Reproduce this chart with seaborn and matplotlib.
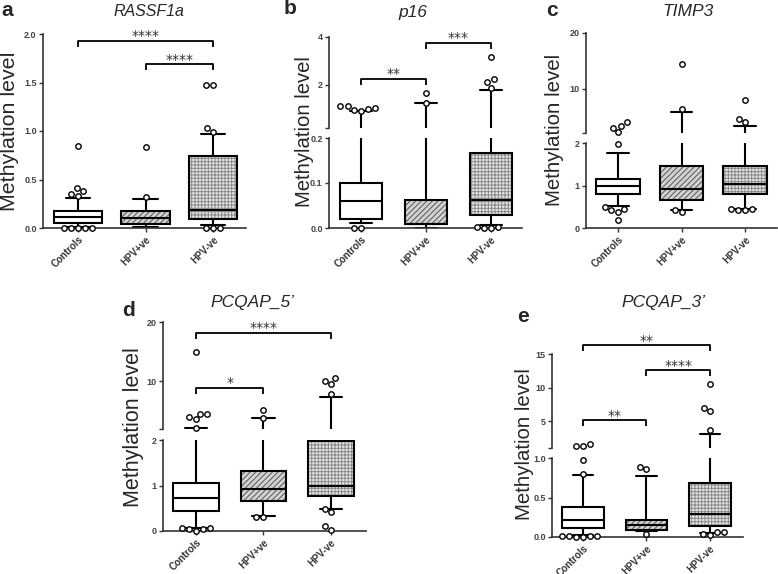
import numpy as np
import pandas as pd
import matplotlib
matplotlib.use("Agg")
import matplotlib.pyplot as plt
from matplotlib.patches import PathPatch
import seaborn as sns

GROUPS = ["Controls", "HPV+ve", "HPV-ve"]

# ---------------- data ----------------
# five-number summaries: [lower whisker, Q1, median, Q3, upper whisker]
rassf1a_controls = [0.01, 0.055, 0.117, 0.176, 0.31]
rassf1a_hpv_pos = [0.007, 0.045, 0.107, 0.172, 0.303]
rassf1a_hpv_neg = [0.03, 0.096, 0.19, 0.744, 0.967]
rassf1a_out_controls = [0.85, 0.41, 0.38, 0.355, 0.33, 0.0, 0.0, 0.0, 0.0, 0.0]
rassf1a_out_hpv_pos = [0.83, 0.32]
rassf1a_out_hpv_neg = [1.47, 1.47, 1.03, 0.99, 0.0, 0.0, 0.0]
rassf1a_brackets = [("Controls", "HPV-ve", 1.93, "****"), ("HPV+ve", "HPV-ve", 1.687, "****")]

p16_controls = [0.011, 0.02, 0.06, 0.1007, 0.90]
p16_hpv_pos = [0.0, 0.0096, 0.0096, 0.0615, 1.24]
p16_hpv_neg = [0.007, 0.028, 0.063, 0.167, 1.79]
p16_out_controls = [1.13, 1.03, 0.97, 0.93, 1.0, 1.1, 0.0, 0.0]
p16_out_hpv_pos = [1.65, 1.25]
p16_out_hpv_neg = [3.17, 2.23, 2.1, 1.86, 0.003, 0.0, 0.0, 0.003]
p16_brackets = [("Controls", "HPV+ve", 2.25, "**"), ("HPV+ve", "HPV-ve", 3.77, "***")]

timp3_controls = [0.51, 0.79, 0.99, 1.16, 1.76]
timp3_hpv_pos = [0.43, 0.67, 0.92, 1.47, 5.75]
timp3_hpv_neg = [0.45, 0.79, 1.04, 1.46, 3.17]
timp3_out_controls = [0.49, 0.42, 0.38, 0.45, 0.18, 1.97, 2.1, 2.9, 3.2, 3.95]
timp3_out_hpv_pos = [0.37, 0.43, 6.4, 14.4]
timp3_out_hpv_neg = [0.44, 0.42, 0.42, 0.45, 4.0, 4.55, 8.0]
timp3_brackets = []

pcqap5_controls = [0.07, 0.45, 0.735, 1.06, 2.2]
pcqap5_hpv_pos = [0.32, 0.67, 0.93, 1.32, 3.78]
pcqap5_hpv_neg = [0.48, 0.77, 1.0, 1.98, 7.33]
pcqap5_out_controls = [0.06, 0.0, 0.045, 0.06, 0.05, 2.2, 3.6, 3.95, 4.55, 4.55, 15.0]
pcqap5_out_hpv_pos = [0.3, 0.3, 3.78, 5.17]
pcqap5_out_hpv_neg = [0.48, 0.41, 0.1, 0.03, 7.9, 9.6, 10.1, 10.5]
pcqap5_brackets = [("Controls", "HPV-ve", 18.17, "****"), ("Controls", "HPV+ve", 8.9, "*")]

pcqap3_controls = [0.02, 0.11, 0.22, 0.38, 0.79]
pcqap3_hpv_pos = [0.07, 0.093, 0.15, 0.22, 0.77]
pcqap3_hpv_neg = [0.055, 0.135, 0.295, 0.68, 3.02]
pcqap3_out_controls = [0.01, 0.01, 0.0, 0.01, 0.0, 0.01, 0.8, 0.98, 1.24, 1.24, 1.58]
pcqap3_out_hpv_pos = [0.034, 0.88, 0.86]
pcqap3_out_hpv_neg = [0.06, 0.03, 0.04, 0.06, 3.66, 6.44, 7.03, 10.6]
pcqap3_brackets = [("Controls", "HPV-ve", 16.3, "**"), ("HPV+ve", "HPV-ve", 12.6, "****"),
                   ("Controls", "HPV+ve", 5.1, "**")]

# ---------------- style ----------------
sns.set_style("ticks")
plt.rcParams["font.family"] = ["Liberation Sans", "DejaVu Sans"]
plt.rcParams["hatch.linewidth"] = 0.7

W, H = 778, 574
fig = plt.figure(figsize=(W / 100, H / 100), dpi=100)

FILLS = {"Controls": ("white", None, None),
         "HPV+ve": ("#d2d2d2", "//////", "#555555"),
         "HPV-ve": ("#e4e4e4", "+++++", "#8a8a8a")}
INK = "#333333"

panels = [
    dict(letter="a", title="RASSF1a",
         stats=[rassf1a_controls, rassf1a_hpv_pos, rassf1a_hpv_neg],
         outliers=[rassf1a_out_controls, rassf1a_out_hpv_pos, rassf1a_out_hpv_neg],
         brackets=rassf1a_brackets, left=43, right=246, xlim=(-0.519, 2.489), width=0.72,
         segs=[(0, 2.0, 34, 228)],
         ticks=[([0, 0.5, 1.0, 1.5, 2.0], ["0.0", "0.5", "1.0", "1.5", "2.0"])],
         title_xy=(149, 11), title_fs=11.5, letter_xy=(1, 11), ylabel_xy=(10, 131), ylabel_fs=15.4),
    dict(letter="b", title="p16",
         stats=[p16_controls, p16_hpv_pos, p16_hpv_neg],
         outliers=[p16_out_controls, p16_out_hpv_pos, p16_out_hpv_neg],
         brackets=p16_brackets, left=329, right=522, xlim=(-0.492, 2.477), width=0.66,
         segs=[(0, 0.2, 138, 228), (0.2, 4, 37, 128)],
         ticks=[([0, 0.1, 0.2], ["0.0", "0.1", "0.2"]), ([0.2, 2, 4], ["", "2", "4"])],
         title_xy=(413, 12), title_fs=12.5, letter_xy=(284, 9), ylabel_xy=(305, 132), ylabel_fs=14.6),
    dict(letter="c", title="TIMP3",
         stats=[timp3_controls, timp3_hpv_pos, timp3_hpv_neg],
         outliers=[timp3_out_controls, timp3_out_hpv_pos, timp3_out_hpv_neg],
         brackets=timp3_brackets, left=586, right=777, xlim=(-0.504, 2.504), width=0.68,
         segs=[(0, 2, 143, 228), (2, 20, 33, 133)],
         ticks=[([0, 1, 2], ["0", "1", "2"]), ([2, 10, 20], ["", "10", "20"])],
         title_xy=(688, 11), title_fs=12.5, letter_xy=(546, 10), ylabel_xy=(555, 130), ylabel_fs=14.8),
    dict(letter="d", title="PCQAP_5\u2019",
         stats=[pcqap5_controls, pcqap5_hpv_pos, pcqap5_hpv_neg],
         outliers=[pcqap5_out_controls, pcqap5_out_hpv_pos, pcqap5_out_hpv_neg],
         brackets=pcqap5_brackets, left=163, right=366, xlim=(-0.489, 2.519), width=0.68,
         segs=[(0, 2, 440, 531), (2, 20, 322, 429)],
         ticks=[([0, 1, 2], ["0", "1", "2"]), ([2, 10, 20], ["", "10", "20"])],
         title_xy=(252, 303), title_fs=12.5, letter_xy=(122, 310), ylabel_xy=(133, 427), ylabel_fs=15.5),
    dict(letter="e", title="PCQAP_3\u2019",
         stats=[pcqap3_controls, pcqap3_hpv_pos, pcqap3_hpv_neg],
         outliers=[pcqap3_out_controls, pcqap3_out_hpv_pos, pcqap3_out_hpv_neg],
         brackets=pcqap3_brackets, left=552, right=743, xlim=(-0.488, 2.52), width=0.66,
         segs=[(0, 1, 458, 537), (1, 15, 354, 448)],
         ticks=[([0, 0.5, 1.0], ["0.0", "0.5", "1.0"]), ([1, 5, 10, 15], ["", "5", "10", "15"])],
         title_xy=(663, 303), title_fs=12.5, letter_xy=(517, 316), ylabel_xy=(525, 444), ylabel_fs=14.7),
]


def draw_panel(p):
    axes = []
    box_df = pd.DataFrame({"group": np.repeat(GROUPS, 5),
                           "value": np.concatenate([np.sort(s) for s in p["stats"]])})
    for k, (ylo, yhi, top, bottom) in enumerate(p["segs"]):
        ax = fig.add_axes([p["left"] / W, 1 - bottom / H,
                           (p["right"] - p["left"]) / W, (bottom - top) / H])
        axes.append(ax)
        sns.boxplot(data=box_df, x="group", y="value", order=GROUPS, whis=(0, 100),
                    width=p["width"], showfliers=False, color="white", linecolor="black",
                    linewidth=1.5, ax=ax)
        boxes = [a for a in ax.patches if isinstance(a, PathPatch)]
        for g, box, st in zip(GROUPS, boxes, p["stats"]):
            fc, hatch, hc = FILLS[g]
            hidden = k > 0 and max(st[1:4]) < ylo
            if hidden:
                box.set_visible(False)
                continue
            if hatch:
                box.set_facecolor("none")
                under = PathPatch(box.get_path(), transform=box.get_transform(),
                                  facecolor=fc, edgecolor=hc, hatch=hatch, linewidth=0,
                                  zorder=box.get_zorder() - 0.05)
                ax.add_patch(under)
        rows = []
        for g, vals in zip(GROUPS, p["outliers"]):
            for v in vals:
                inside = (ylo <= v <= yhi) if k == 0 else (ylo < v <= yhi)
                if inside:
                    rows.append((g, v))
        odf = pd.DataFrame(rows, columns=["group", "value"])
        n0 = len(ax.collections)
        sns.swarmplot(data=odf, x="group", y="value", order=GROUPS, size=3.9,
                      color="white", edgecolor="black", linewidth=1.0, ax=ax)
        for c in ax.collections[n0:]:
            c.set_clip_on(False)
            c.set_zorder(6)

        ax.set_ylim(ylo, yhi)
        ax.set_xlim(*p["xlim"])
        ax.set_xlabel("")
        ax.set_ylabel("")
        for s in ["top", "right"]:
            ax.spines[s].set_visible(False)
        for s in ["left", "bottom"]:
            ax.spines[s].set_color(INK)
            ax.spines[s].set_linewidth(1.2)
        vals, labs = p["ticks"][k]
        ax.set_yticks(vals)
        ax.set_yticklabels(labs, fontsize=6.5, fontweight="bold", color="#444444")
        ax.tick_params(axis="both", length=3, width=1, pad=1.5, color=INK)
        if k == 0:
            ax.set_xticks([0, 1, 2])
            ax.set_xticklabels(GROUPS, rotation=45, ha="right", rotation_mode="anchor",
                               fontsize=7, fontweight="bold", color=INK)
        else:
            ax.spines["bottom"].set_visible(False)
            ax.tick_params(axis="x", bottom=False, labelbottom=False)

    # significance brackets on the top-most segment
    ax = axes[-1]
    ylo, yhi, top, bottom = p["segs"][-1]
    unit = (yhi - ylo) / (bottom - top)
    for g1, g2, y, label in p["brackets"]:
        x1, x2 = GROUPS.index(g1), GROUPS.index(g2)
        d = 6 * unit
        ax.plot([x1, x1, x2, x2], [y - d, y, y, y - d], color="black", lw=1.3,
                clip_on=False, solid_capstyle="butt", zorder=7)
        ax.text((x1 + x2) / 2, y + 0.5 * unit, label, ha="center", va="baseline",
                fontsize=10, color=INK, family=["DejaVu Sans"])

    fig.text(p["title_xy"][0] / W, 1 - p["title_xy"][1] / H, p["title"], style="italic",
             fontsize=p["title_fs"], ha="center", va="center")
    fig.text(p["letter_xy"][0] / W, 1 - p["letter_xy"][1] / H, p["letter"], fontweight="bold",
             fontsize=15, ha="left", va="center")
    fig.text(p["ylabel_xy"][0] / W, 1 - p["ylabel_xy"][1] / H, "Methylation level",
             rotation=90, fontsize=p["ylabel_fs"], ha="center", va="center")


for p in panels:
    draw_panel(p)

fig.savefig("out.png", dpi=100, facecolor="white")
